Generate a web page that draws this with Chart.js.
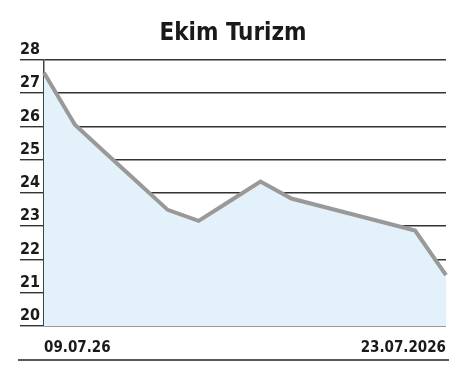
<!DOCTYPE html>
<html lang="tr">
<head>
    <meta charset="UTF-8">
    <title>Ekim Turizm</title>
    <script src="https://cdn.jsdelivr.net/npm/chart.js"></script>
    <style>
        html, body { margin: 0; padding: 0; background: #fff; }
        #wrap { width: 472px; height: 376px; }
    </style>
</head>
<body>
    <div id="wrap">
        <canvas id="price-chart"></canvas>
    </div>

    <script>
        // veriler
        const chartTitle = 'Ekim Turizm';
        const dates = ['09.07.26', '10.07.26', '11.07.26', '12.07.26', '13.07.26', '14.07.26', '15.07.26',
                       '16.07.26', '17.07.26', '18.07.26', '19.07.26', '20.07.26', '21.07.26', '23.07.2026'];
        const prices = [27.61, 26.05, 25.19, 24.34, 23.49, 23.16, 23.75,
                        24.34, 23.83, 23.59, 23.35, 23.11, 22.87, 21.53];
        const xTickLabels = ['09.07.26', '23.07.2026'];
        const yMin = 20, yMax = 28, yStep = 1;

        const condFont = "'DejaVu Sans Condensed', 'DejaVu Sans', sans-serif";

        // alt çizgi
        const bottomRule = {
            id: 'bottomRule',
            afterDraw(chart) {
                const ctx = chart.ctx;
                const y = chart.scales.x.bottom;
                ctx.save();
                ctx.strokeStyle = '#222';
                ctx.lineWidth = 1.5;
                ctx.beginPath();
                ctx.moveTo(18, y);
                ctx.lineTo(449, y);
                ctx.stroke();
                ctx.restore();
            }
        };

        const ctx = document.getElementById('price-chart').getContext('2d');
        new Chart(ctx, {
            type: 'line',
            data: {
                labels: dates,
                datasets: [{
                    data: prices,
                    borderColor: '#999999',
                    backgroundColor: '#e3f1fa',
                    borderWidth: 4,
                    pointRadius: 0,
                    tension: 0,
                    fill: 'start'
                }]
            },
            options: {
                responsive: true,
                maintainAspectRatio: false,
                animation: false,
                layout: { padding: { left: 20, right: 26, top: 0, bottom: 16 } },
                plugins: {
                    legend: { display: false },
                    tooltip: { enabled: false },
                    title: {
                        display: true,
                        text: chartTitle,
                        color: '#1a1a1a',
                        font: { family: condFont, size: 24, weight: 'bold', lineHeight: 1.2 },
                        padding: { top: 19, bottom: 12 }
                    }
                },
                scales: {
                    x: {
                        offset: false,
                        grid: { display: false, drawTicks: false },
                        border: { display: false },
                        afterFit(scale) { scale.height = 34; },
                        ticks: {
                            autoSkip: false,
                            maxRotation: 0,
                            align: 'inner',
                            padding: 13,
                            color: '#1a1a1a',
                            font: { family: condFont, size: 15, weight: 'bold' },
                            callback(value, index) {
                                if (index === 0) return xTickLabels[0];
                                if (index === dates.length - 1) return xTickLabels[1];
                                return '';
                            }
                        }
                    },
                    y: {
                        min: yMin,
                        max: yMax,
                        afterFit(scale) { scale.width = 24; },
                        grid: { color: '#333', lineWidth: 1.4, drawTicks: true, tickLength: 24, tickColor: '#333' },
                        border: { display: true, color: '#444', width: 1.5 },
                        ticks: {
                            stepSize: yStep,
                            crossAlign: 'far',
                            padding: 0,
                            labelOffset: -10,
                            color: '#1a1a1a',
                            font: { family: condFont, size: 16, weight: 'bold' }
                        }
                    }
                }
            },
            plugins: [bottomRule]
        });
    </script>
</body>
</html>
